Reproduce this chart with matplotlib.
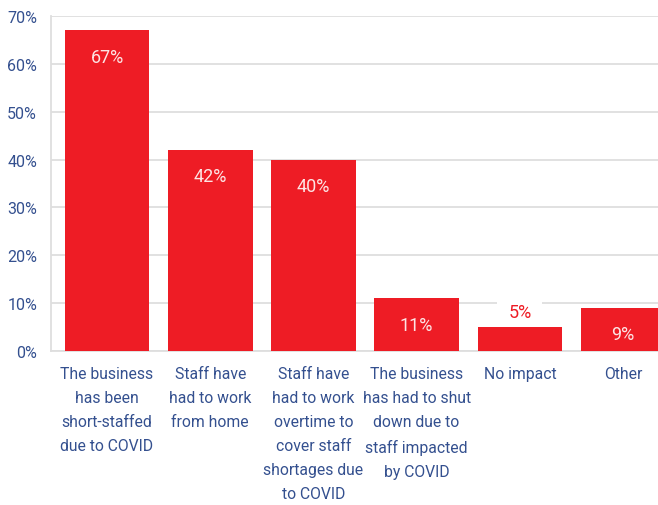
import matplotlib
matplotlib.use("Agg")
import matplotlib.pyplot as plt
from matplotlib import font_manager

categories = [
    "The business\nhas been\nshort-staffed\ndue to COVID",
    "Staff have\nhad to work\nfrom home",
    "Staff have\nhad to work\novertime to\ncover staff\nshortages due\nto COVID",
    "The business\nhas had to shut\ndown due to\nstaff impacted\nby COVID",
    "No impact",
    "Other",
]
values = [67, 42, 40, 11, 5, 9]
yticks = [0, 10, 20, 30, 40, 50, 60, 70]
ytick_labels = [f"{v}%" for v in yticks]

names = {f.name for f in font_manager.fontManager.ttflist}
family = ["Liberation Sans Narrow", "DejaVu Sans"] if "Liberation Sans Narrow" in names else ["Roboto", "DejaVu Sans"]
plt.rcParams["font.family"] = family

BAR = "#ee1c25"
BLUE = "#34508f"
GRID = "#dedede"

fig = plt.figure(figsize=(6.58, 5.06), dpi=100)
ax = fig.add_axes([51 / 658, (506 - 352) / 506, 1 - 51 / 658, (352 - 17) / 506])

x = list(range(len(values)))
ax.bar(x, values, width=0.82, color=BAR, zorder=3)

ax.set_ylim(0, 70)
ax.set_xlim(-0.543, 5.339)
ax.set_yticks(yticks)
ax.set_yticklabels(ytick_labels, color=BLUE, fontsize=11.5)
ax.yaxis.grid(True, color=GRID, linewidth=1.3, zorder=0)
ax.set_axisbelow(True)
ax.tick_params(axis="y", length=0, pad=10)
ax.tick_params(axis="x", length=0, pad=11)
ax.set_xticks(x)
ax.set_xticklabels(categories, color=BLUE, fontsize=11.3, linespacing=1.75, va="top")

for side in ("top", "right"):
    ax.spines[side].set_visible(False)
for side in ("left", "bottom"):
    ax.spines[side].set_color(GRID)
    ax.spines[side].set_linewidth(1.3)

for xi, v in zip(x, values):
    if v >= 8:
        ax.annotate(f"{v}%", (xi, v), xytext=(0, -19), textcoords="offset points",
                    ha="center", va="center", color="#fde4e4", fontsize=13, zorder=4)
    else:
        # label sits above a short bar on a white patch; bars are drawn over the patch
        ax.annotate(f"{v}%", (xi, v), xytext=(0, 11), textcoords="offset points",
                    ha="center", va="center", color=BAR, fontsize=13, zorder=2.5,
                    bbox=dict(boxstyle="square,pad=0.6", fc="white", ec="none"))

fig.savefig("out.png", dpi=100)
